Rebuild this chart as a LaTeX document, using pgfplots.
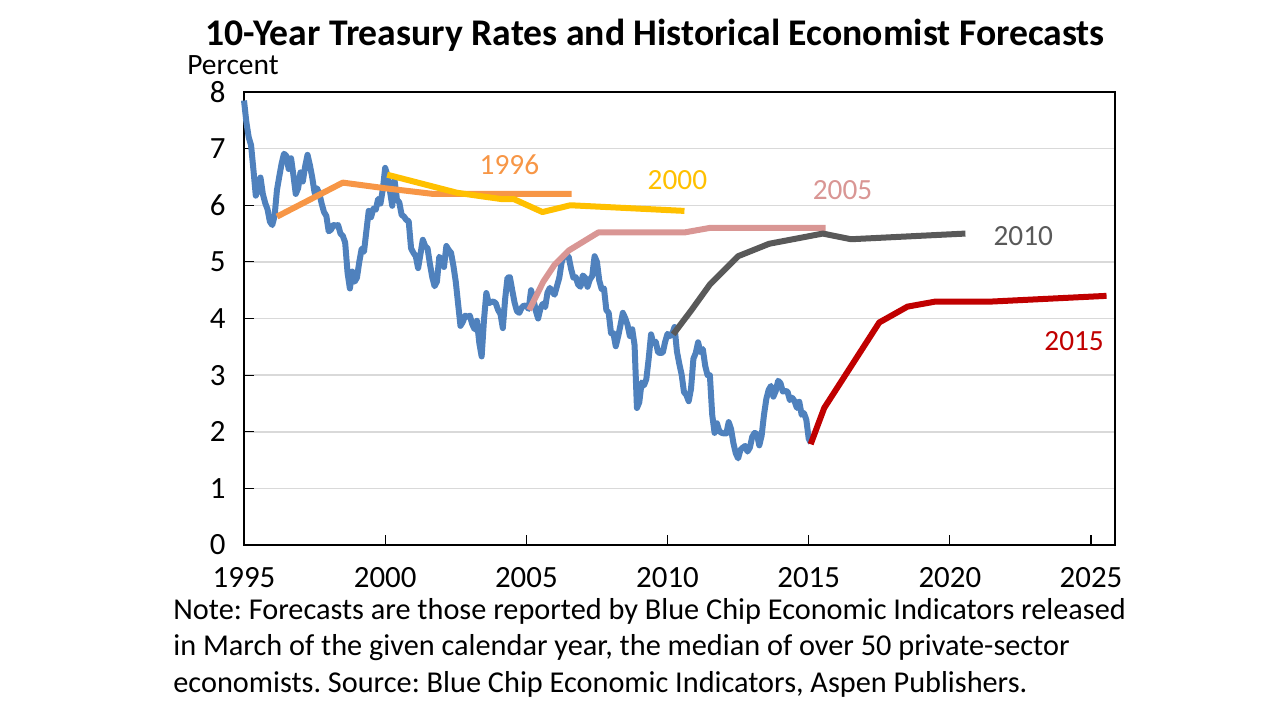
\documentclass[border=0pt]{standalone}
\usepackage{pgfplots}
\pgfplotsset{compat=1.18}
\usepackage{fontspec}
\setmainfont{Carlito}
\frenchspacing

\definecolor{tsy}{RGB}{79,129,189}
\definecolor{f96}{RGB}{247,150,70}
\definecolor{f00}{RGB}{255,192,0}
\definecolor{f05}{RGB}{217,150,148}
\definecolor{f10}{RGB}{89,89,89}
\definecolor{f15}{RGB}{192,0,0}
\definecolor{gridc}{RGB}{217,217,217}

\begin{document}
\begin{tikzpicture}[x=1bp,y=1bp]
\useasboundingbox (0,0) rectangle (640,360);

% title and notes
\node[inner sep=0] at (327.5,342.5) {\fontsize{18.9}{21}\selectfont\bfseries 10-Year Treasury Rates and Historical Economist Forecasts};
\node[inner sep=0] at (116.5,327.5) {\fontsize{14.8}{16}\selectfont Percent};
\node[anchor=west, inner sep=0] at (86.5,54.5) {\fontsize{15.2}{18}\selectfont Note: Forecasts are those reported by Blue Chip Economic Indicators released};
\node[anchor=west, inner sep=0] at (86.5,36) {\fontsize{15.2}{18}\selectfont in March of the given calendar year, the median of over 50 private-sector};
\node[anchor=west, inner sep=0] at (86.5,18) {\fontsize{15.2}{18}\selectfont economists. Source: Blue Chip Economic Indicators, Aspen Publishers.};

\begin{axis}[
    at={(122bp,87.5bp)}, anchor=south west,
    scale only axis, width=435.5bp, height=226.5bp,
    xmin=1995, xmax=2025.85, ymin=0, ymax=8,
    xtick={1995,2000,...,2025}, ytick={0,1,...,8},
    xtick pos=bottom, ytick pos=left,
    tick align=inside, major tick length=5bp,
    tick style={black, line width=0.6bp},
    axis line style={black, line width=0.75bp},
    ymajorgrids, grid style={gridc, line width=0.75bp},
    /pgf/number format/1000 sep={},
    /pgf/number format/assume math mode=true,
    ticklabel style={font=\fontsize{15.5}{17}\selectfont},
    xticklabel style={yshift=-7.5bp},
    yticklabel style={xshift=-8bp, inner sep=1bp},
    clip=false,
]
% 10-year Treasury, monthly
\addplot[tsy, line width=3bp, line join=round] coordinates {
(1995.000,7.85)(1995.083,7.47)(1995.167,7.20)(1995.250,7.06)(1995.333,6.63)(1995.417,6.17)(1995.500,6.28)(1995.583,6.49)(1995.667,6.20)(1995.750,6.04)(1995.833,5.93)(1995.917,5.71)
(1996.000,5.65)(1996.083,5.81)(1996.167,6.27)(1996.250,6.51)(1996.333,6.74)(1996.417,6.91)(1996.500,6.87)(1996.583,6.64)(1996.667,6.83)(1996.750,6.53)(1996.833,6.20)(1996.917,6.30)
(1997.000,6.58)(1997.083,6.42)(1997.167,6.69)(1997.250,6.89)(1997.333,6.71)(1997.417,6.49)(1997.500,6.22)(1997.583,6.30)(1997.667,6.21)(1997.750,6.03)(1997.833,5.88)(1997.917,5.81)
(1998.000,5.54)(1998.083,5.57)(1998.167,5.65)(1998.250,5.64)(1998.333,5.65)(1998.417,5.50)(1998.500,5.46)(1998.583,5.34)(1998.667,4.81)(1998.750,4.53)(1998.833,4.83)(1998.917,4.65)
(1999.000,4.72)(1999.083,5.00)(1999.167,5.23)(1999.250,5.18)(1999.333,5.54)(1999.417,5.90)(1999.500,5.79)(1999.583,5.94)(1999.667,5.92)(1999.750,6.11)(1999.833,6.03)(1999.917,6.28)
(2000.000,6.66)(2000.083,6.52)(2000.167,6.26)(2000.250,5.99)(2000.333,6.44)(2000.417,6.10)(2000.500,6.05)(2000.583,5.83)(2000.667,5.80)(2000.750,5.74)(2000.833,5.72)(2000.917,5.24)
(2001.000,5.16)(2001.083,5.10)(2001.167,4.89)(2001.250,5.14)(2001.333,5.39)(2001.417,5.28)(2001.500,5.24)(2001.583,4.97)(2001.667,4.73)(2001.750,4.57)(2001.833,4.65)(2001.917,5.09)
(2002.000,5.04)(2002.083,4.91)(2002.167,5.28)(2002.250,5.21)(2002.333,5.16)(2002.417,4.93)(2002.500,4.65)(2002.583,4.26)(2002.667,3.87)(2002.750,3.94)(2002.833,4.05)(2002.917,4.03)
(2003.000,4.05)(2003.083,3.90)(2003.167,3.81)(2003.250,3.96)(2003.333,3.57)(2003.417,3.33)(2003.500,3.98)(2003.583,4.45)(2003.667,4.27)(2003.750,4.29)(2003.833,4.30)(2003.917,4.27)
(2004.000,4.15)(2004.083,4.08)(2004.167,3.83)(2004.250,4.35)(2004.333,4.72)(2004.417,4.73)(2004.500,4.50)(2004.583,4.28)(2004.667,4.13)(2004.750,4.10)(2004.833,4.19)(2004.917,4.23)
(2005.000,4.22)(2005.083,4.17)(2005.167,4.50)(2005.250,4.34)(2005.333,4.14)(2005.417,4.00)(2005.500,4.18)(2005.583,4.26)(2005.667,4.20)(2005.750,4.46)(2005.833,4.54)(2005.917,4.47)
(2006.000,4.42)(2006.083,4.57)(2006.167,4.72)(2006.250,4.99)(2006.333,5.11)(2006.417,5.11)(2006.500,5.09)(2006.583,4.88)(2006.667,4.72)(2006.750,4.73)(2006.833,4.60)(2006.917,4.56)
(2007.000,4.76)(2007.083,4.72)(2007.167,4.56)(2007.250,4.69)(2007.333,4.75)(2007.417,5.10)(2007.500,5.00)(2007.583,4.67)(2007.667,4.52)(2007.750,4.53)(2007.833,4.15)(2007.917,4.10)
(2008.000,3.74)(2008.083,3.74)(2008.167,3.51)(2008.250,3.68)(2008.333,3.88)(2008.417,4.10)(2008.500,4.01)(2008.583,3.89)(2008.667,3.69)(2008.750,3.81)(2008.833,3.53)(2008.917,2.42)
(2009.000,2.52)(2009.083,2.87)(2009.167,2.82)(2009.250,2.93)(2009.333,3.29)(2009.417,3.72)(2009.500,3.56)(2009.583,3.59)(2009.667,3.40)(2009.750,3.39)(2009.833,3.40)(2009.917,3.59)
(2010.000,3.73)(2010.083,3.69)(2010.167,3.73)(2010.250,3.85)(2010.333,3.42)(2010.417,3.20)(2010.500,3.01)(2010.583,2.70)(2010.667,2.65)(2010.750,2.54)(2010.833,2.76)(2010.917,3.29)
(2011.000,3.39)(2011.083,3.58)(2011.167,3.41)(2011.250,3.46)(2011.333,3.17)(2011.417,3.00)(2011.500,3.00)(2011.583,2.30)(2011.667,1.98)(2011.750,2.15)(2011.833,2.01)(2011.917,1.98)
(2012.000,1.97)(2012.083,1.97)(2012.167,2.17)(2012.250,2.05)(2012.333,1.80)(2012.417,1.62)(2012.500,1.53)(2012.583,1.68)(2012.667,1.72)(2012.750,1.75)(2012.833,1.65)(2012.917,1.72)
(2013.000,1.91)(2013.083,1.98)(2013.167,1.96)(2013.250,1.76)(2013.333,1.93)(2013.417,2.30)(2013.500,2.58)(2013.583,2.74)(2013.667,2.81)(2013.750,2.62)(2013.833,2.72)(2013.917,2.90)
(2014.000,2.86)(2014.083,2.71)(2014.167,2.72)(2014.250,2.71)(2014.333,2.56)(2014.417,2.60)(2014.500,2.54)(2014.583,2.42)(2014.667,2.53)(2014.750,2.30)(2014.833,2.33)(2014.917,2.21)
(2015.000,1.88)(2015.083,1.80)
};
% forecasts
\addplot[f96, line width=3bp, line join=round] coordinates {
(1996.17,5.80)(1998.50,6.40)(2000.00,6.30)(2001.70,6.20)(2006.60,6.20)
};
\addplot[f00, line width=3bp, line join=round] coordinates {
(2000.07,6.54)(2002.55,6.22)(2004.10,6.11)(2004.55,6.11)(2005.57,5.88)(2006.56,6.00)(2010.60,5.90)
};
\addplot[f05, line width=3bp, line join=round] coordinates {
(2005.10,4.15)(2005.60,4.65)(2006.00,4.95)(2006.50,5.20)(2007.55,5.52)(2010.60,5.52)(2011.50,5.60)(2015.60,5.60)
};
\addplot[f10, line width=3bp, line join=round] coordinates {
(2010.20,3.72)(2010.85,4.15)(2011.50,4.60)(2012.50,5.10)(2013.60,5.32)(2015.50,5.50)(2016.50,5.40)(2020.55,5.50)
};
\addplot[f15, line width=3bp, line join=round] coordinates {
(2015.07,1.78)(2015.55,2.42)(2017.50,3.93)(2018.50,4.21)(2019.50,4.30)(2021.50,4.30)(2025.55,4.40)
};
\node[f96, font=\fontsize{14.7}{16}\selectfont] at (axis cs:2004.4,6.71) {1996};
\node[f00, font=\fontsize{14.7}{16}\selectfont] at (axis cs:2010.35,6.45) {2000};
\node[f05, font=\fontsize{14.7}{16}\selectfont] at (axis cs:2016.2,6.27) {2005};
\node[f10, font=\fontsize{14.7}{16}\selectfont] at (axis cs:2022.6,5.46) {2010};
\node[f15, font=\fontsize{14.7}{16}\selectfont] at (axis cs:2024.4,3.60) {2015};
\end{axis}
\end{tikzpicture}
\end{document}
